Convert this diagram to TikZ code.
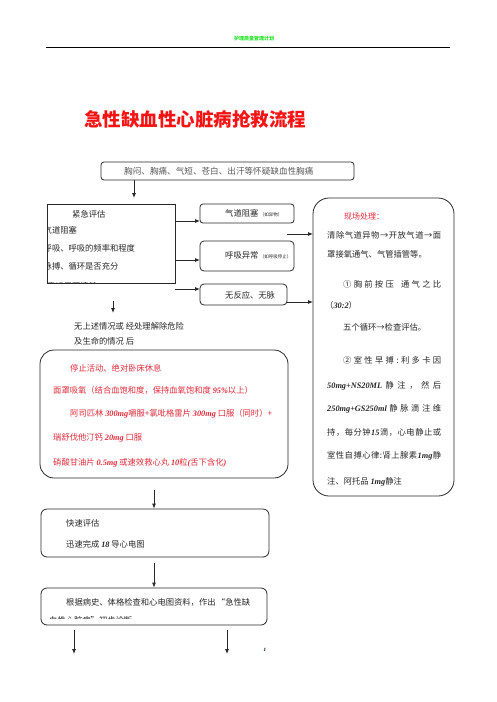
\documentclass[tikz,border=0pt]{standalone}
\usepackage{fontspec}
\setmainfont{Noto Sans CJK SC}
\newfontfamily\lat{Liberation Serif}
\usetikzlibrary{arrows.meta}
\definecolor{hdrgreen}{RGB}{40,230,40}
\definecolor{titlered}{RGB}{245,20,20}
\definecolor{boxred}{RGB}{225,45,60}
\definecolor{ink}{RGB}{40,40,40}
\definecolor{greyink}{RGB}{90,90,90}
\newcommand{\nb}[1]{{\lat\bfseries\itshape #1}}
\tikzset{
  box/.style={draw=ink, line width=0.8pt, inner sep=0pt},
  rbox/.style={box, rounded corners=#1},
  txt/.style={anchor=base west, inner sep=0pt, text=ink, font=\fontsize{8.3}{10}\selectfont},
  rtxt/.style={txt, text=boxred},
  arr/.style={-{Latex[length=5pt,width=4pt]}, line width=0.8pt, draw=ink}
}
\begin{document}
\begin{tikzpicture}[x=1pt,y=-1pt]
\useasboundingbox[fill=white] (0,0) rectangle (496,702);
% header
\node[inner sep=0pt, text=hdrgreen, font=\fontsize{5}{6}\selectfont\bfseries] (hdr) at (254,39) {护理质量管理计划};
\coordinate (hl) at (46,47.5);
\coordinate (hr) at (450,47.5);
\draw[line width=0.8pt] (hl) -- (hr);
% title
\node[inner sep=0pt, anchor=base west, text=titlered, font=\fontsize{18.5}{20}\selectfont\bfseries] (title) at (84,126) {急性缺血性心脏病抢救流程};
% box 1
\node[rbox=3pt, minimum width=253pt, minimum height=18pt] (b1) at (227.5,171) {};
\node[txt, text=greyink, font=\fontsize{8.6}{9}\selectfont] (t1) at (124,174.5) {胸闷、胸痛、气短、苍白、出汗等怀疑缺血性胸痛};
% box 2 (紧急评估)
\node[box, minimum width=128pt, minimum height=79pt] (b2) at (111,243.5) {};
\begin{scope}
\clip (47.4,204.4) rectangle (174.6,282.6);
\node[txt] (t2a) at (72,217) {紧急评估};
\node[txt] (t2b) at (43.5,233) {气道阻塞};
\node[txt] (t2c) at (43.5,251) {呼吸、呼吸的频率和程度};
\node[txt] (t2d) at (43.5,269) {脉搏、循环是否充分};
\node[txt] (t2e) at (47,289.5) {意识是否清楚};
\end{scope}
% small boxes
\node[rbox=3pt, minimum width=94pt, minimum height=19pt] (b3) at (247,213.5) {};
\begin{scope}
\clip (200.5,204.5) rectangle (292.5,222.5);
\node[txt] (t3) at (225,216.5) {气道阻塞\,{\fontsize{4.5}{5}\selectfont（如异物）}};
\end{scope}
\node[rbox=4pt, minimum width=94pt, minimum height=30pt] (b4) at (247,256) {};
\begin{scope}
\clip (200.5,241.5) rectangle (292.5,270.5);
\node[txt] (t4) at (225,258.5) {呼吸异常\,{\fontsize{4.5}{5}\selectfont（如呼吸停止）}};
\end{scope}
\node[rbox=4pt, minimum width=87pt, minimum height=21pt] (b5) at (243.5,294.5) {};
\node[txt] (t5) at (225,298) {无反应、无脉};
% right big box
\node[rbox=16pt, minimum width=141pt, minimum height=298pt] (b6) at (383.5,347) {};
\node[rtxt, font=\fontsize{8}{10}\selectfont] (r1) at (344,219) {现场处理：};
\node[txt] (r2) at (327,238) {\makebox[114pt][s]{清\hfill 除\hfill 气\hfill 道\hfill 异\hfill 物\hfill →\hfill 开\hfill 放\hfill 气\hfill 道\hfill →\hfill 面}};
\node[txt] (r3) at (327,257) {罩接氧通气、气管插管等。};
\node[txt] (r4) at (343,287) {\makebox[98pt][s]{①\hfill 胸\hfill 前\hfill 按\hfill 压\hspace{5pt}\hfill 通\hfill 气\hfill 之\hfill 比}};
\node[txt] (r5) at (325,308) {（\nb{30:2}）};
\node[txt] (r6) at (343,330) {五个循环→检查评估。};
\node[txt] (r7) at (343,363) {\makebox[98pt][s]{②\hfill 室\hfill 性\hfill 早\hfill 搏\hfill :\hfill 利\hfill 多\hfill 卡\hfill 因}};
\node[txt] (r8) at (327,388) {\makebox[114pt][s]{\nb{50mg+NS20ML}\hfill 静\hfill 注\hfill ，\hfill 然\hfill 后}};
\node[txt] (r9) at (327,411) {\makebox[114pt][s]{\nb{250mg+GS250ml}\hfill 静\hfill 脉\hfill 滴\hfill 注\hfill 维}};
\node[txt] (r10) at (327,435) {\makebox[114pt][s]{持\hfill ，\hfill 每\hfill 分\hfill 钟\hfill \nb{15}\hfill 滴\hfill ，\hfill 心\hfill 电\hfill 静\hfill 止\hfill 或}};
\node[txt] (r11) at (327,458) {\makebox[114pt][s]{室\hfill 性\hfill 自\hfill 搏\hfill 心\hfill 律\hfill :\hfill 肾\hfill 上\hfill 腺\hfill 素\hfill \nb{1mg}\hfill 静}};
\node[txt] (r12) at (327,484) {注、阿托品 \nb{1mg}静注};
% middle text
\node[txt] (m1) at (74,329) {无上述情况或 经处理解除危险};
\node[txt] (m2) at (74,344) {及生命的情况 后};
% red box
\node[rbox=14pt, minimum width=248pt, minimum height=128pt] (b7) at (164,414) {};
\node[rtxt] (p1) at (70,371) {停止活动、绝对卧床休息};
\node[rtxt] (p2) at (53,393) {面罩吸氧（结合血饱和度，保持血氧饱和度 \nb{95\%}以上）};
\node[rtxt] (p3) at (70,416) {阿司匹林 \nb{300mg}嚼服+氯吡格雷片 \nb{300mg} 口服（同时）+};
\node[rtxt] (p4) at (53,440) {瑞舒伐他汀钙 \nb{20mg} 口服};
\node[rtxt] (p5) at (53,465) {硝酸甘油片 \nb{0.5mg} 或速效救心丸 \nb{10}粒\nb{(}舌下含化\nb{)}};
% lower boxes
\node[rbox=6pt, minimum width=228pt, minimum height=48pt] (b8) at (155,533) {};
\node[txt] (q1) at (66,526) {快速评估};
\node[txt] (q2) at (66,547) {迅速完成 \nb{18} 导心电图};
\node[rbox=6pt, minimum width=226pt, minimum height=37pt] (b9) at (154,606.5) {};
\node[txt] (s1) at (66,605) {根据病史、体格检查和心电图资料，作出\,“急性缺};
\begin{scope}
\clip (41.5,588.5) rectangle (266.5,618.5);
\node[txt] (s2) at (49,623.5) {血性心脏病”初步诊断};
\end{scope}
% page number
\node[inner sep=0pt, anchor=base west, font=\fontsize{5}{6}\selectfont] (pg) at (262,651) {\textcolor{hdrgreen}{.}\nb{1}};
% coordinates
\coordinate (a1s) at (b1.south -| 134,0);
\coordinate (a1e) at (134,198);
\coordinate (a2s) at (175,221);
\coordinate (a2e) at (200,221);
\coordinate (a3s) at (175,260);
\coordinate (a3e) at (200,260);
\coordinate (a4s) at (175,289);
\coordinate (a4e) at (200,289);
\coordinate (a5s) at (287,234);
\coordinate (a5e) at (313,234);
\coordinate (a6s) at (287,302);
\coordinate (a6e) at (313,302);
\coordinate (a7s) at (113,301);
\coordinate (a7e) at (113,313);
\coordinate (a8s) at (154,490);
\coordinate (a9s) at (154,563);
\coordinate (a10s) at (74,630);
\coordinate (a10e) at (74,654);
\coordinate (a11s) at (227,630);
\coordinate (a11e) at (227,654);
\draw[arr] (a1s) -- (a1e);
\draw[arr] (a2s) -- (a2e);
\draw[arr] (a3s) -- (a3e);
\draw[arr] (a4s) -- (a4e);
\draw[arr] (a5s) -- (a5e);
\draw[arr] (a6s) -- (a6e);
\draw[arr] (a7s) -- (a7e);
\draw[arr] (a8s) -- (b8.north -| a8s);
\draw[arr] (a9s) -- (b9.north -| a9s);
\draw[arr] (a10s) -- (a10e);
\draw[arr] (a11s) -- (a11e);
\end{tikzpicture}
\end{document}
